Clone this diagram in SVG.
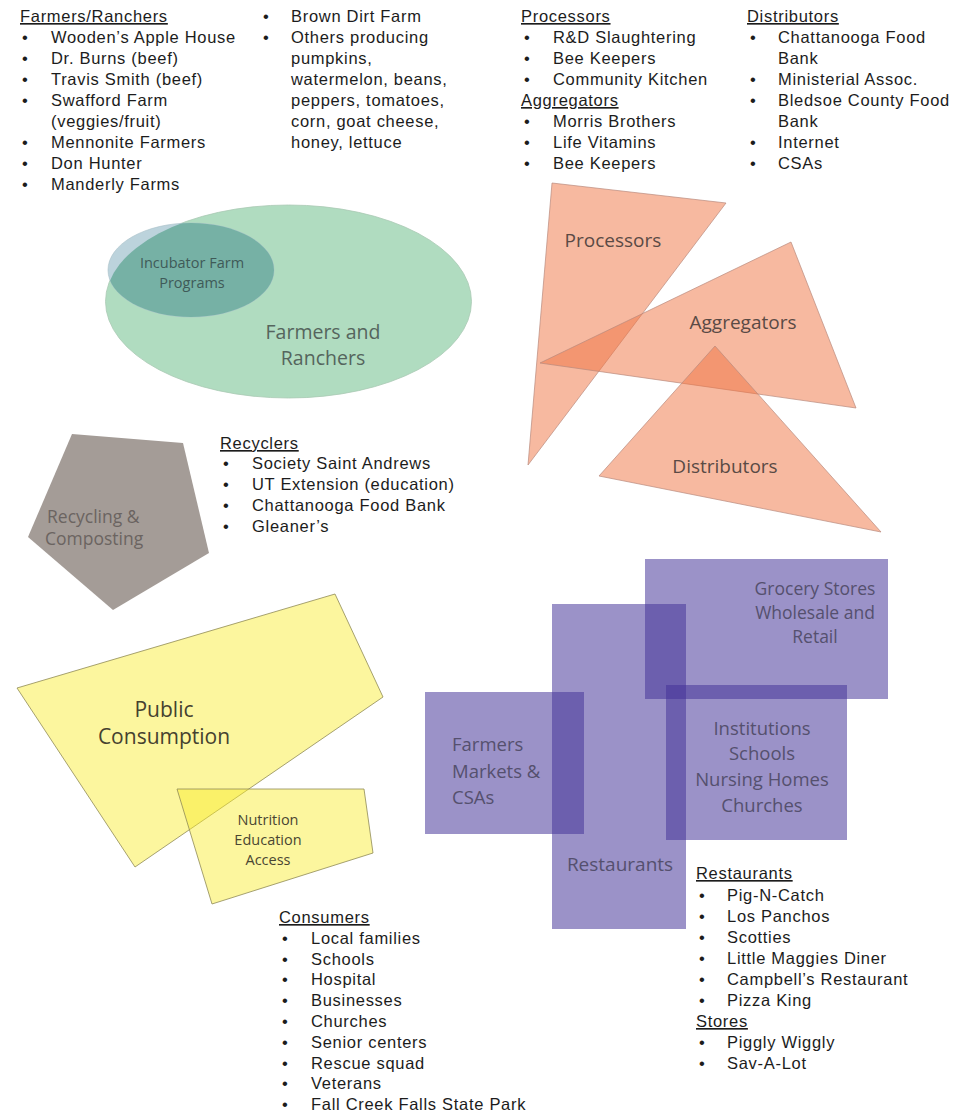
<svg xmlns="http://www.w3.org/2000/svg" width="957" height="1112" viewBox="0 0 957 1112">
<defs>
<style>
.lst{font-family:"Liberation Sans",Arial,sans-serif;font-size:16.5px;letter-spacing:0.7px;fill:#1c1c1c}
.hd{text-decoration:underline}
.lbl{font-family:"Open Sans","Noto Sans",sans-serif}
.tri{fill:rgb(239,115,65);fill-opacity:0.5;stroke:#b98a7c;stroke-width:0.7}
.ylw{fill:rgb(248,235,40);fill-opacity:0.45;stroke:#8f8a55;stroke-width:0.8}
.pur{fill:rgb(66,49,151);fill-opacity:0.53}
</style>
<clipPath id="greenClip"><ellipse cx="288.5" cy="301.5" rx="183" ry="96.5"/></clipPath>
</defs>
<rect width="957" height="1112" fill="#ffffff"/>

<g id="connectors"></g>

<g id="farmers">
<ellipse cx="288.5" cy="301.5" rx="183" ry="96.5" fill="#b0dcc0" stroke="#a9c9b4" stroke-width="0.8"/>
<text class="lbl" font-size="19.5" fill="#55655d" text-anchor="middle"><tspan x="323" y="339">Farmers and</tspan><tspan x="323" y="365">Ranchers</tspan></text>
</g>
<g id="incubator">
<ellipse cx="191" cy="270" rx="83" ry="47" fill="#bcd3dc" stroke="#a8bfc8" stroke-width="0.6"/>
<ellipse cx="191" cy="270" rx="83" ry="47" fill="#76b1a5" clip-path="url(#greenClip)"/>
<text class="lbl" font-size="14.5" fill="#3f5a58" text-anchor="middle"><tspan x="192" y="268">Incubator Farm</tspan><tspan x="192" y="288">Programs</tspan></text>
</g>

<g id="processors">
<polygon class="tri" points="552,183 726,203 528,465"/>
</g>
<g id="aggregators">
<polygon class="tri" points="540,363 791,242 856,408"/>
</g>
<g id="distributors">
<polygon class="tri" points="715,346 599,476 881,532"/>
</g>
<g id="triangle-labels" class="lbl" font-size="19" fill="#5a4a45" text-anchor="middle">
<text x="613" y="247">Processors</text>
<text x="743" y="329">Aggregators</text>
<text x="725" y="473">Distributors</text>
</g>

<g id="recycling">
<polygon points="72,434 183,443 209,553 113,610 28,537" fill="#a49c97"/>
<text class="lbl" font-size="17.5" fill="#6b6461"><tspan x="47" y="523">Recycling &amp;</tspan><tspan x="45" y="545">Composting</tspan></text>
</g>

<g id="public">
<polygon class="ylw" points="17,688 335,594 383,697 135,867"/>
<text class="lbl" font-size="21" fill="#45412f" text-anchor="middle"><tspan x="164" y="717">Public</tspan><tspan x="164" y="744">Consumption</tspan></text>
</g>
<g id="nutrition">
<polygon class="ylw" points="177,789 364,789 373,853 212,904"/>
<text class="lbl" font-size="14.5" fill="#4a4632" text-anchor="middle"><tspan x="268" y="825">Nutrition</tspan><tspan x="268" y="845">Education</tspan><tspan x="268" y="865">Access</tspan></text>
</g>

<g id="grocery">
<rect class="pur" x="645" y="559" width="243" height="140"/>
<text class="lbl" font-size="17.5" fill="#55506e" text-anchor="middle"><tspan x="815" y="595">Grocery Stores</tspan><tspan x="815" y="619">Wholesale and</tspan><tspan x="815" y="643">Retail</tspan></text>
</g>
<g id="restaurants">
<rect class="pur" x="552" y="604" width="134" height="325"/>
<text class="lbl" font-size="19" fill="#55506e" x="620" y="871" text-anchor="middle">Restaurants</text>
</g>
<g id="farmers-markets">
<rect class="pur" x="425" y="692" width="159" height="142"/>
<text class="lbl" font-size="18.5" fill="#55506e"><tspan x="452" y="751">Farmers</tspan><tspan x="452" y="778">Markets &amp;</tspan><tspan x="452" y="804">CSAs</tspan></text>
</g>
<g id="institutions">
<rect class="pur" x="666" y="685" width="181" height="155"/>
<text class="lbl" font-size="18.5" fill="#55506e" text-anchor="middle"><tspan x="762" y="735">Institutions</tspan><tspan x="762" y="760">Schools</tspan><tspan x="762" y="786">Nursing Homes</tspan><tspan x="762" y="812">Churches</tspan></text>
</g>

<g id="list-farmers">
<text class="lst"><tspan class="hd" x="20" y="22">Farmers/Ranchers</tspan></text>
<text class="lst">
<tspan x="22" y="43">•</tspan><tspan x="51" y="43">Wooden’s Apple House</tspan>
<tspan x="22" y="64">•</tspan><tspan x="51" y="64">Dr. Burns (beef)</tspan>
<tspan x="22" y="85">•</tspan><tspan x="51" y="85">Travis Smith (beef)</tspan>
<tspan x="22" y="106">•</tspan><tspan x="51" y="106">Swafford Farm</tspan>
<tspan x="51" y="127">(veggies/fruit)</tspan>
<tspan x="22" y="148">•</tspan><tspan x="51" y="148">Mennonite Farmers</tspan>
<tspan x="22" y="169">•</tspan><tspan x="51" y="169">Don Hunter</tspan>
<tspan x="22" y="190">•</tspan><tspan x="51" y="190">Manderly Farms</tspan>
</text>
<text class="lst">
<tspan x="263" y="22">•</tspan><tspan x="291" y="22">Brown Dirt Farm</tspan>
<tspan x="263" y="43">•</tspan><tspan x="291" y="43">Others producing</tspan>
<tspan x="291" y="64">pumpkins,</tspan>
<tspan x="291" y="85">watermelon, beans,</tspan>
<tspan x="291" y="106">peppers, tomatoes,</tspan>
<tspan x="291" y="127">corn, goat cheese,</tspan>
<tspan x="291" y="148">honey, lettuce</tspan>
</text>
</g>

<g id="list-processors">
<text class="lst">
<tspan class="hd" x="521" y="22">Processors</tspan>
<tspan x="524" y="43">•</tspan><tspan x="553" y="43">R&amp;D Slaughtering</tspan>
<tspan x="524" y="64">•</tspan><tspan x="553" y="64">Bee Keepers</tspan>
<tspan x="524" y="85">•</tspan><tspan x="553" y="85">Community Kitchen</tspan>
<tspan class="hd" x="521" y="106">Aggregators</tspan>
<tspan x="524" y="127">•</tspan><tspan x="553" y="127">Morris Brothers</tspan>
<tspan x="524" y="148">•</tspan><tspan x="553" y="148">Life Vitamins</tspan>
<tspan x="524" y="169">•</tspan><tspan x="553" y="169">Bee Keepers</tspan>
</text>
</g>

<g id="list-distributors">
<text class="lst">
<tspan class="hd" x="747" y="22">Distributors</tspan>
<tspan x="750" y="43">•</tspan><tspan x="778" y="43">Chattanooga Food</tspan>
<tspan x="778" y="64">Bank</tspan>
<tspan x="750" y="85">•</tspan><tspan x="778" y="85">Ministerial Assoc.</tspan>
<tspan x="750" y="106">•</tspan><tspan x="778" y="106">Bledsoe County Food</tspan>
<tspan x="778" y="127">Bank</tspan>
<tspan x="750" y="148">•</tspan><tspan x="778" y="148">Internet</tspan>
<tspan x="750" y="169">•</tspan><tspan x="778" y="169">CSAs</tspan>
</text>
</g>

<g id="list-recyclers">
<text class="lst">
<tspan class="hd" x="220" y="449">Recyclers</tspan>
<tspan x="223" y="469">•</tspan><tspan x="252" y="469">Society Saint Andrews</tspan>
<tspan x="223" y="490">•</tspan><tspan x="252" y="490">UT Extension (education)</tspan>
<tspan x="223" y="511">•</tspan><tspan x="252" y="511">Chattanooga Food Bank</tspan>
<tspan x="223" y="532">•</tspan><tspan x="252" y="532">Gleaner’s</tspan>
</text>
</g>

<g id="list-consumers">
<text class="lst">
<tspan class="hd" x="279" y="923">Consumers</tspan>
<tspan x="282" y="944">•</tspan><tspan x="311" y="944">Local families</tspan>
<tspan x="282" y="965">•</tspan><tspan x="311" y="965">Schools</tspan>
<tspan x="282" y="985">•</tspan><tspan x="311" y="985">Hospital</tspan>
<tspan x="282" y="1006">•</tspan><tspan x="311" y="1006">Businesses</tspan>
<tspan x="282" y="1027">•</tspan><tspan x="311" y="1027">Churches</tspan>
<tspan x="282" y="1048">•</tspan><tspan x="311" y="1048">Senior centers</tspan>
<tspan x="282" y="1069">•</tspan><tspan x="311" y="1069">Rescue squad</tspan>
<tspan x="282" y="1089">•</tspan><tspan x="311" y="1089">Veterans</tspan>
<tspan x="282" y="1110">•</tspan><tspan x="311" y="1110">Fall Creek Falls State Park</tspan>
</text>
</g>

<g id="list-restaurants">
<text class="lst">
<tspan class="hd" x="696" y="879">Restaurants</tspan>
<tspan x="699" y="901">•</tspan><tspan x="727" y="901">Pig-N-Catch</tspan>
<tspan x="699" y="922">•</tspan><tspan x="727" y="922">Los Panchos</tspan>
<tspan x="699" y="943">•</tspan><tspan x="727" y="943">Scotties</tspan>
<tspan x="699" y="964">•</tspan><tspan x="727" y="964">Little Maggies Diner</tspan>
<tspan x="699" y="985">•</tspan><tspan x="727" y="985">Campbell’s Restaurant</tspan>
<tspan x="699" y="1006">•</tspan><tspan x="727" y="1006">Pizza King</tspan>
<tspan class="hd" x="696" y="1027">Stores</tspan>
<tspan x="699" y="1048">•</tspan><tspan x="727" y="1048">Piggly Wiggly</tspan>
<tspan x="699" y="1069">•</tspan><tspan x="727" y="1069">Sav-A-Lot</tspan>
</text>
</g>
</svg>
